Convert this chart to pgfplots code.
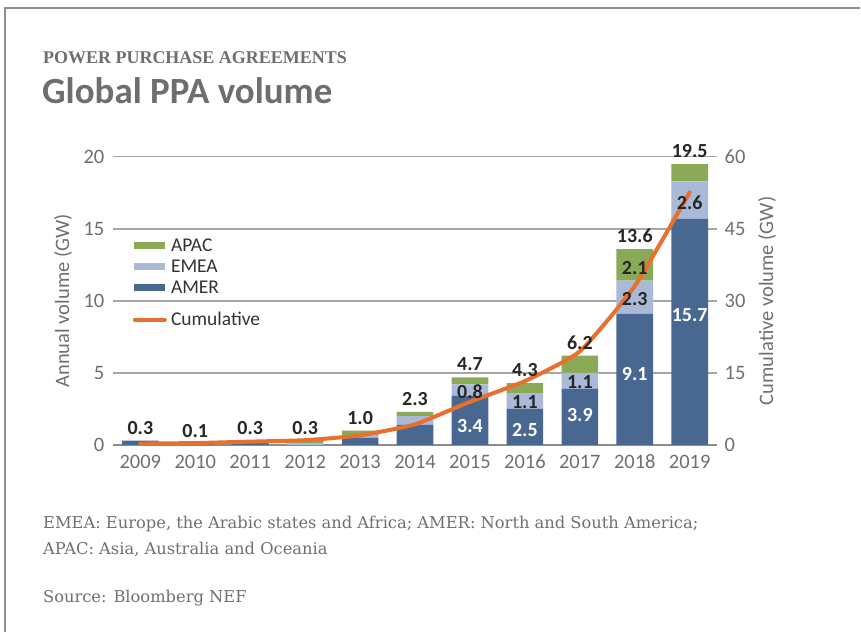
\documentclass[border=0pt]{standalone}
\usepackage{fontspec}
\setmainfont{Carlito}
\newfontfamily\headserif{Liberation Serif}
\newfontfamily\noteserif{DejaVu Serif}
\usepackage{pgfplots}
\pgfplotsset{compat=1.18}
\definecolor{amer}{HTML}{486892}
\definecolor{emea}{HTML}{A9B9D7}
\definecolor{apac}{HTML}{8BAA57}
\definecolor{cumul}{HTML}{E8702C}
\definecolor{gridgray}{HTML}{A6A6A6}
\definecolor{basegray}{HTML}{8C8C8C}
\definecolor{tickgray}{HTML}{6F6F6F}
\definecolor{titlegray}{HTML}{6E6E6E}
\definecolor{framegray}{HTML}{8E8E8E}
\tikzset{ticktext/.style={font=\fontsize{20.5}{24}\selectfont, text=tickgray},
  datalabel/.style={anchor=center, text height=13pt, text depth=0pt, font=\bfseries\fontsize{20}{22}\selectfont}}
\pgfplotsset{
  chartbox/.style={at={(113pt,-445.5pt)}, anchor=south west, scale only axis,
    width=605pt, height=288.5pt, xmin=-0.5, xmax=10.5, clip=false},
}
\begin{document}
\begin{tikzpicture}[x=1pt,y=1pt]
\path (0,0) rectangle (861,-633);
\draw[framegray, line width=2pt] (5,-633) -- (5,-8) -- (861,-8);
\node[anchor=base west, inner sep=0, text=titlegray, font=\headserif\bfseries\fontsize{18}{20}\selectfont] at (43,-64) {POWER PURCHASE AGREEMENTS};
\node[anchor=base west, inner sep=0, text=titlegray, font=\bfseries\fontsize{37}{40}\selectfont] at (42,-104) {Global PPA volume};

% annual volumes, stacked
\begin{axis}[chartbox,
  ymin=0, ymax=20, ytick={0,5,...,20},
  ybar stacked, bar width=36.7pt,
  xtick={0,...,10},
  xticklabels={2009,2010,2011,2012,2013,2014,2015,2016,2017,2018,2019},
  axis x line*=bottom, axis y line*=left,
  x axis line style={draw=basegray, line width=2.2pt, -},
  y axis line style={draw=none},
  major tick style={draw=none},
  ymajorgrids, grid style={gridgray, line width=1.3pt},
  tick label style={ticktext},
  /pgf/number format/assume math mode=true,
  xticklabel style={anchor=base, yshift=-24pt},
  yticklabel style={xshift=-5pt},
  ylabel={Annual volume (GW)},
  every axis y label/.style={at={(axis description cs:-0.0826,0.5)}, anchor=center, rotate=90, ticktext},
]
\addplot[fill=amer, draw=none] coordinates {(0,0.3) (1,0.1) (2,0.2) (3,0.0) (4,0.5) (5,1.4) (6,3.4) (7,2.5) (8,3.9) (9,9.1) (10,15.7)};
\addplot[fill=emea, draw=none] coordinates {(0,0) (1,0) (2,0.1) (3,0.1) (4,0.2) (5,0.6) (6,0.8) (7,1.1) (8,1.1) (9,2.3) (10,2.6)};
\addplot[fill=apac, draw=none] coordinates {(0,0) (1,0) (2,0) (3,0.2) (4,0.3) (5,0.3) (6,0.5) (7,0.7) (8,1.2) (9,2.2) (10,1.2)};
\end{axis}

% cumulative, right axis
\begin{axis}[chartbox,
  ymin=0, ymax=60, ytick={0,15,...,60},
  axis y line*=right, axis x line=none,
  y axis line style={draw=none},
  major tick style={draw=none},
  tick label style={ticktext},
  /pgf/number format/assume math mode=true,
  yticklabel style={xshift=4pt},
  ylabel={Cumulative volume (GW)},
  every axis y label/.style={at={(axis description cs:1.0826,0.5)}, anchor=center, rotate=90, ticktext},
]
\addplot[cumul, line width=4pt, line cap=round, line join=round, mark=none, smooth, tension=0.3]
  coordinates {(0,0.3) (1,0.4) (2,0.7) (3,1.0) (4,2.0) (5,4.3) (6,9.0) (7,13.3) (8,19.5) (9,33.1) (10,52.6)};
\end{axis}

% data labels
\begin{axis}[chartbox, ymin=0, ymax=20, hide axis]
\addplot[draw=none, mark=none, nodes near coords, point meta=explicit symbolic,
  every node near coord/.style={datalabel, text=white}]
  coordinates {(6,1.35)[3.4] (7,1.07)[2.5] (8,2.11)[3.9] (9,4.95)[9.1] (10,9.04)[15.7]};
\addplot[draw=none, mark=none, nodes near coords, point meta=explicit symbolic,
  every node near coord/.style={datalabel, text=black!85}]
  coordinates {(6,3.68)[0.8] (7,2.96)[1.1] (8,4.38)[1.1] (9,10.12)[2.3] (9,12.27)[2.1] (10,16.77)[2.6]};
\addplot[draw=none, mark=none, nodes near coords, point meta=explicit symbolic,
  every node near coord/.style={datalabel, yshift=13pt, text=black!85}]
  coordinates {(0,0.3)[0.3] (1,0.1)[0.1] (2,0.3)[0.3] (3,0.3)[0.3] (4,1.0)[1.0] (5,2.3)[2.3]
    (6,4.7)[4.7] (7,4.3)[4.3] (8,6.2)[6.2] (9,13.6)[13.6] (10,19.5)[19.5]};
\end{axis}

% legend
\fill[apac] (134,-242.5) rectangle (165,-249.5);
\fill[emea] (134,-263.5) rectangle (165,-270.5);
\fill[amer] (134,-284.5) rectangle (165,-291.5);
\draw[cumul, line width=4pt, line cap=round] (135,-320) -- (165,-320);
\begin{scope}[every node/.style={anchor=base west, inner sep=0, text=black!80, font=\fontsize{19.5}{22}\selectfont}]
\node at (171,-252) {APAC};
\node at (171,-273) {EMEA};
\node at (171,-294) {AMER};
\node at (171,-325.5) {Cumulative};
\end{scope}

% notes
\begin{scope}[every node/.style={anchor=base west, inner sep=0, text=tickgray, font=\noteserif\fontsize{16.3}{18}\selectfont}]
\node at (43,-529) {EMEA: Europe, the Arabic states and Africa; AMER: North and South America;};
\node at (43,-555) {APAC: Asia, Australia and Oceania};
\node at (43,-603) {Source: Bloomberg NEF};
\end{scope}
\end{tikzpicture}
\end{document}
